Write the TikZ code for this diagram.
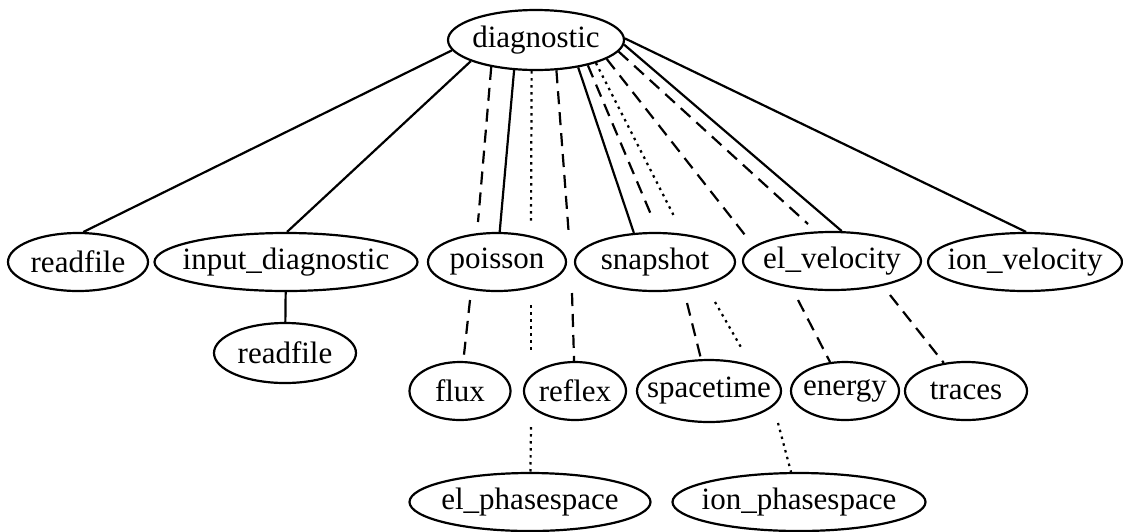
\documentclass[tikz,border=0pt]{standalone}
\usepackage{fontspec}
\setmainfont{Liberation Serif}
\usetikzlibrary{shapes.geometric}
\newcommand{\lbl}[1]{\makebox[0pt]{#1}}

\begin{document}
\begin{tikzpicture}[x=1pt,y=-1pt,line width=2.2pt,
  vtx/.style={draw,ellipse,inner sep=0pt,minimum height=58pt,font=\fontsize{31}{37}\selectfont},
  dashedge/.style={dash pattern=on 13pt off 8pt},
  dotedge/.style={dash pattern=on 2.5pt off 4.5pt}]
\useasboundingbox (0,0) rectangle (1123,531);
\node[vtx,minimum width=176pt,minimum height=60pt](diag) at (536,40){\lbl{diagnostic}};
\node[vtx,minimum width=140pt](rf1) at (78,262){\lbl{readfile}};
\node[vtx,minimum width=263pt](inp) at (286,262){\lbl{input\_diagnostic}};
\node[vtx,minimum width=138pt](poi) at (497,262){\lbl{poisson}};
\node[vtx,minimum width=160pt](snap) at (655,262){\lbl{snapshot}};
\node[vtx,minimum width=178pt](elv) at (832,261){\lbl{el\_velocity}};
\node[vtx,minimum width=194pt](ionv) at (1025,262){\lbl{ion\_velocity}};
\node[vtx,minimum width=142pt,minimum height=60pt](rf2) at (285,353){\lbl{readfile}};
\node[vtx,minimum width=101pt](flux) at (460,391){\lbl{flux}};
\node[vtx,minimum width=102pt](refl) at (575,391){\lbl{reflex}};
\node[vtx,minimum width=144pt,minimum height=62pt](spt) at (709,391){\lbl{spacetime}};
\node[vtx,minimum width=108pt](ener) at (845,391){\lbl{energy}};
\node[vtx,minimum width=122pt](trc) at (966,391){\lbl{traces}};
\node[vtx,minimum width=241pt](elph) at (530,502){\lbl{el\_phasespace}};
\node[vtx,minimum width=253pt](ionph) at (799,502){\lbl{ion\_phasespace}};
% break points of the long edges
\coordinate (f1) at (478,222); \coordinate (f2) at (470,300);
\coordinate (e1) at (531,222); \coordinate (e2) at (531,305);
\coordinate (e3) at (531,351); \coordinate (e4) at (531,427);
\coordinate (r1) at (569,237); \coordinate (r2) at (572,293);
\coordinate (s1) at (652,217); \coordinate (s2) at (687,303);
\coordinate (i1) at (675,218); \coordinate (i2) at (715,302);
\coordinate (i3) at (742,349); \coordinate (i4) at (778,423);
\coordinate (g1) at (745,235); \coordinate (g2) at (798,300);
\coordinate (t1) at (808,224); \coordinate (t2) at (890,295);
% solid edges
\draw (diag.187) -- (rf1.80);
\draw (diag.198) -- (inp.88);
\draw (diag.234) -- (poi);
\draw (diag.327) -- (snap.126);
\draw (diag.357) -- (elv.72);
\draw (diag.1) -- (ionv.88);
\draw (inp) -- (rf2);
% dashed edges
\draw[dashedge] (diag.211) -- (f1); \draw[dashedge] (f2) -- (flux);
\draw[dashedge] (diag.304) -- (r1); \draw[dashedge] (r2) -- (refl);
\draw[dashedge] (diag.334) -- (s1); \draw[dashedge] (s2) -- (spt);
\draw[dashedge] (diag.345) -- (g1); \draw[dashedge] (g2) -- (ener);
\draw[dashedge] (diag.352) -- (t1); \draw[dashedge] (t2) -- (trc);
% dotted edges
\draw[dotedge] (diag.262) -- (e1); \draw[dotedge] (e2) -- (e3); \draw[dotedge] (e4) -- (elph);
\draw[dotedge] (diag.339) -- (i1); \draw[dotedge] (i2) -- (i3); \draw[dotedge] (i4) -- (ionph);
\end{tikzpicture}
\end{document}
